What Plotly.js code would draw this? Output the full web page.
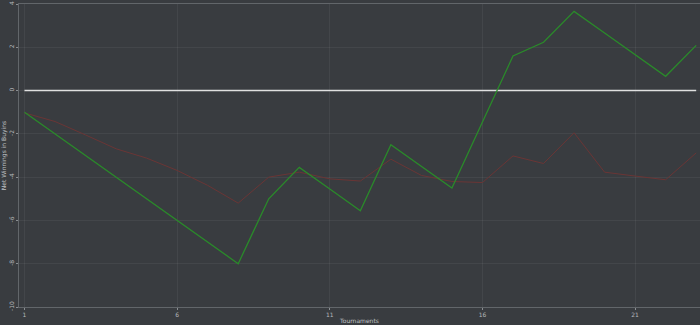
<!DOCTYPE html>
<html>
<head>
<meta charset="utf-8">
<script src="https://cdn.plot.ly/plotly-3.0.1.min.js"></script>
<style>
html,body{margin:0;padding:0;background:#393c40;}
#chart{width:700px;height:325px;}
</style>
</head>
<body>
<div id="chart"></div>
<script>
const tournaments = [1,2,3,4,5,6,7,8,9,10,11,12,13,14,15,16,17,18,19,20,21,22,23];
const netWinnings = [-1,-2,-3,-4,-5,-6,-7,-8,-5,-3.55,-4.55,-5.55,-2.5,-3.5,-4.5,-1.45,1.6,2.23,3.66,2.66,1.66,0.66,2.09];
const comparison = [-1.03,-1.43,-2.05,-2.69,-3.12,-3.69,-4.38,-5.2,-4.0,-3.77,-4.08,-4.18,-3.17,-3.92,-4.2,-4.25,-3.02,-3.37,-1.95,-3.77,-3.95,-4.12,-2.88];
const baselineX = [1, 23];
const baselineY = [0, 0];
const xTicks = [1, 6, 11, 16, 21];
const yTicks = [-10, -8, -6, -4, -2, 0, 2, 4];

const traces = [
  {x: baselineX, y: baselineY, mode: 'lines', line: {color: '#e0e0e0', width: 1.6}, hoverinfo: 'skip'},
  {x: tournaments, y: comparison, mode: 'lines', line: {color: '#6a3535', width: 1}},
  {x: tournaments, y: netWinnings, mode: 'lines', line: {color: '#2a8a2a', width: 1.3}}
];

const axisCommon = {
  showgrid: true,
  gridcolor: 'rgba(255,255,255,0.055)',
  gridwidth: 1,
  zeroline: false,
  showline: true,
  linecolor: '#62666a',
  linewidth: 1,
  mirror: true,
  ticks: 'outside',
  ticklen: 2,
  tickcolor: '#8a8e92',
  tickfont: {family: 'DejaVu Sans', size: 6, color: '#b5b8bb'}
};

const layout = {
  width: 700, height: 325,
  paper_bgcolor: '#393c40',
  plot_bgcolor: '#393c40',
  showlegend: false,
  margin: {l: 19, r: 0, t: 4, b: 18},
  xaxis: Object.assign({}, axisCommon, {
    range: [0.82, 23.125],
    tickmode: 'array', tickvals: xTicks, ticktext: xTicks.map(String),
    title: {text: 'Tournaments', font: {family: 'DejaVu Sans', size: 6, color: '#c0c3c6'}, standoff: 1}
  }),
  yaxis: Object.assign({}, axisCommon, {
    range: [-10, 4],
    tickmode: 'array', tickvals: yTicks, ticktext: yTicks.map(String),
    tickangle: -90,
    title: {text: 'Net Winnings in Buyins', font: {family: 'DejaVu Sans', size: 6, color: '#c0c3c6'}, standoff: 2}
  })
};

Plotly.newPlot('chart', traces, layout, {displayModeBar: false, staticPlot: true});
</script>
</body>
</html>
